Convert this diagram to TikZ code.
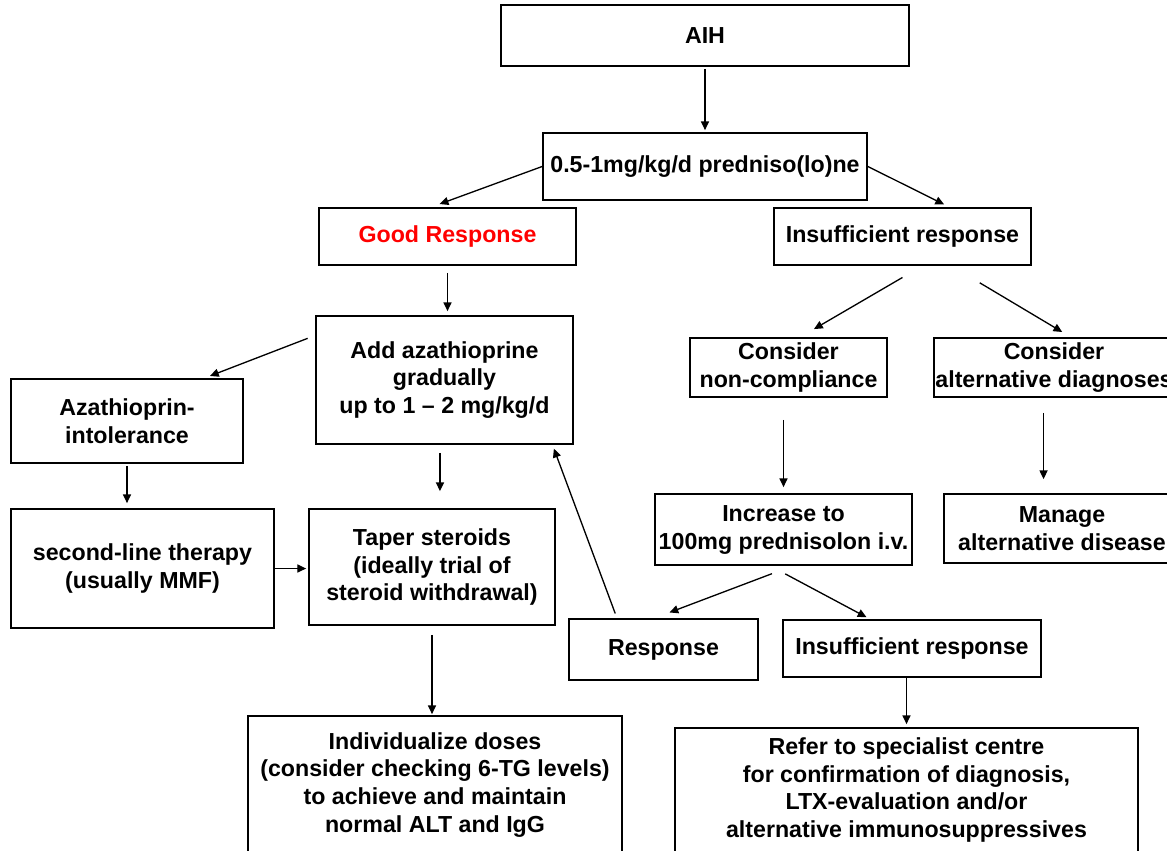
\documentclass[tikz,border=0pt]{standalone}
\usepackage{fontspec}
\setmainfont{Liberation Sans}
\usepackage{xcolor}
\usepackage{tikz}
\usetikzlibrary{arrows.meta}
\newdimen\px \px=0.02cm

\begin{document}
\begin{tikzpicture}[
      x=\px, y=-\px,
      font=\fontsize{13.2}{15.9}\selectfont\bfseries,
      box/.style={draw, line width=1pt, align=center, inner sep=0pt},
      arr/.style={-{Triangle[length=5pt,width=4.6pt]}, line width=0.75pt}
    ]
    \useasboundingbox (0,0) rectangle (1167,850);
    \clip (0,0) rectangle (1167,850);
    % top of the tree
    \node[box, minimum width=408*\px, minimum height=61*\px] (aih) at (705,35.5) {AIH};
    \node[box, minimum width=324*\px, minimum height=67*\px] (pred) at (705,166.5) {0.5-1mg/kg/d predniso(lo)ne};
    \node[box, minimum width=257*\px, minimum height=57*\px, text=red] (good) at (447.5,236.5) {Good Response};
    \node[box, minimum width=257*\px, minimum height=57*\px] (insA) at (902.5,236.5) {Insufficient response};
    % left branch
    \node[box, minimum width=257*\px, minimum height=128*\px] (aza) at (444.5,380) {Add azathioprine\\gradually\\up to 1 – 2 mg/kg/d};
    \node[box, minimum width=232*\px, minimum height=84*\px] (intol) at (127,421) {Azathioprin-\\intolerance};
    \node[box, minimum width=263*\px, minimum height=119*\px] (second) at (142.5,568.5) {second-line therapy\\(usually MMF)};
    \node[box, minimum width=246*\px, minimum height=116*\px] (taper) at (432,567) {Taper steroids\\(ideally trial of\\steroid withdrawal)};
    \node[box, minimum width=374*\px, minimum height=138*\px] (indiv) at (435,785) {Individualize doses\\(consider checking 6-TG levels)\\to achieve and maintain\\normal ALT and IgG};
    % right branch
    \node[box, minimum width=197*\px, minimum height=59*\px] (nonc) at (788.5,367.5) {Consider\\non-compliance};
    \node[box, minimum width=240*\px, minimum height=59*\px] (altdx) at (1054,367.5) {Consider\\alternative diagnoses};
    \node[box, minimum width=257*\px, minimum height=71*\px] (incr) at (783.5,529.5) {Increase to\\100mg prednisolon i.v.};
    \node[box, minimum width=236*\px, minimum height=69*\px] (manage) at (1062,528.5) {Manage\\alternative disease};
    \node[box, minimum width=189*\px, minimum height=61*\px] (resp) at (663.5,649.5) {Response};
    \node[box, minimum width=258*\px, minimum height=57*\px] (insB) at (912,648.5) {Insufficient response};
    \node[box, minimum width=463*\px, minimum height=124*\px] (refer) at (906.5,790) {Refer to specialist centre\\for confirmation of diagnosis,\\LTX-evaluation and/or\\alternative immunosuppressives};

    \draw[arr, shorten <=2*\px, shorten >=2*\px] (aih.south) -- (pred.north);
    \draw[arr, shorten >=9*\px] (pred.west) -- (good.119);
    \draw[arr, shorten >=6*\px] (pred.east) -- (insA.32);
    \draw[arr, shorten <=7*\px, shorten >=4*\px] (good.south) -- (good.south |- aza.north);
    \draw[arr, shorten <=23*\px, shorten >=16*\px] (insA.304) -- (nonc.69);
    \draw[arr, shorten <=33*\px, shorten >=10*\px] (insA.329) -- (altdx.61);
    \draw[arr, shorten <=8*\px, shorten >=6*\px] (aza.161) -- (intol.29);
    \draw[arr, shorten <=8*\px, shorten >=17*\px] (aza.266) -- (aza.266 |- taper.north);
    \draw[arr, shorten <=2*\px, shorten >=5*\px] (intol.south) -- (intol.south |- second.north);
    \draw[arr, shorten >=2*\px] (second.east) -- (second.east -| taper.west);
    \draw[arr, shorten <=9*\px, shorten >=1*\px] (taper.south) -- (taper.south |- indiv.north);
    \draw[arr, shorten <=22*\px, shorten >=6*\px] (nonc.south -| incr.north) -- (incr.north);
    \draw[arr, shorten <=15*\px, shorten >=14*\px] (altdx.251) -- (altdx.251 |- manage.north);
    \draw[arr, shorten <=22*\px, shorten >=16*\px] (incr.284) -- (resp.106);
    \draw[arr, shorten <=17*\px, shorten >=4*\px] (incr.250) -- (insB.145);
    % response loops back to azathioprine
    \draw[arr, shorten <=5*\px, shorten >=4*\px] (resp.146) -- (aza.329);
    \draw[arr, shorten >=3*\px] (insB.south -| refer.north) -- (refer.north);
  \end{tikzpicture}
\end{document}
